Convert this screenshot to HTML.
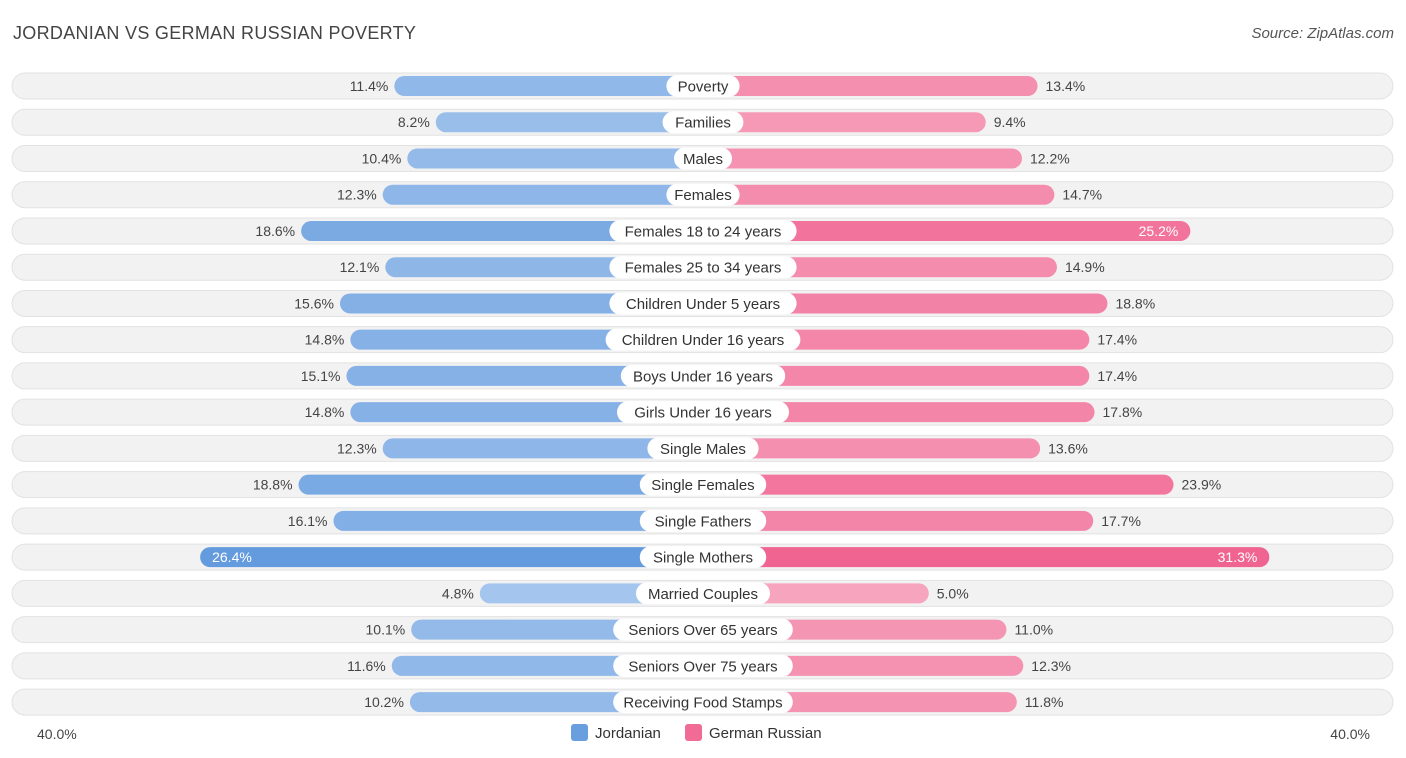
<!DOCTYPE html>
<html><head><meta charset="utf-8"><style>
body{margin:0;background:#fff;font-family:"Liberation Sans",Arial,sans-serif;}
#wrap{position:relative;width:1406px;height:758px;overflow:hidden;}
.title{position:absolute;left:13px;top:23px;font-size:18px;color:#444;letter-spacing:0.3px}
.src{position:absolute;right:12px;top:25px;font-size:15px;color:#555;font-style:italic}
</style></head><body><div id="wrap">
<div class="title">JORDANIAN VS GERMAN RUSSIAN POVERTY</div>
<div class="src">Source: ZipAtlas.com</div>
<svg id="svg" width="1406" height="758" style="position:absolute;left:0;top:0"></svg>
</div>
<script>
const categories=["Poverty","Families","Males","Females","Females 18 to 24 years","Females 25 to 34 years","Children Under 5 years","Children Under 16 years","Boys Under 16 years","Girls Under 16 years","Single Males","Single Females","Single Fathers","Single Mothers","Married Couples","Seniors Over 65 years","Seniors Over 75 years","Receiving Food Stamps"];
const jordanian=[11.4,8.2,10.4,12.3,18.6,12.1,15.6,14.8,15.1,14.8,12.3,18.8,16.1,26.4,4.8,10.1,11.6,10.2];
const germanRussian=[13.4,9.4,12.2,14.7,25.2,14.9,18.8,17.4,17.4,17.8,13.6,23.9,17.7,31.3,5.0,11.0,12.3,11.8];
const axisLabels=["40.0%","40.0%"];
const NS="http://www.w3.org/2000/svg";
const svg=document.getElementById('svg');
const cx=703,off=161,scale=12.95,y0=86,dy=36.24;
function xL(v){return cx-off-v*scale;}
function xR(v){return cx+off+v*scale;}
function rowY(i){return y0+i*dy;}
function mk(t,a){const e=document.createElementNS(NS,t);for(const k in a)e.setAttribute(k,a[k]);svg.appendChild(e);return e;}
function mix(a,b,t){return 'rgb('+a.map((v,i)=>Math.round(v+(b[i]-v)*t)).join(',')+')';}
categories.forEach((c,i)=>{
  const y=rowY(i);
  const bg=mk('rect',{x:12,y:y-13,width:1381,height:26,rx:13,fill:'#f2f2f2',stroke:'#e2e2e2','stroke-width':1});
  
  
  const j=jordanian[i],g=germanRussian[i];
  const tj=Math.min(1,j/26.4),tg=Math.min(1,g/31.3);
  const bj=mk('rect',{x:xL(j),y:y-10,width:cx-xL(j),height:20,rx:10,fill:mix([178,206,240],[100,155,222],tj)});
  
  
  const bgR=mk('rect',{x:cx,y:y-10,width:xR(g)-cx,height:20,rx:10,fill:mix([248,176,198],[240,100,146],tg)});
  
  
  const w=c.length*7.6+20;
  const lb=mk('rect',{x:cx-w/2,y:y-11,width:w,height:22,rx:11,fill:'#fff'});
  
  
  const t=mk('text',{x:cx,y:y+5.5,'text-anchor':'middle','font-size':15,fill:'#333'});t.textContent=c;
  
  
  const inJ=j>25,inG=g>25;
  const tj2=mk('text',{x:inJ?xL(j)+12:xL(j)-6,y:y+5,'text-anchor':inJ?'start':'end','font-size':14,fill:inJ?'#fff':'#444'});tj2.textContent=j.toFixed(1)+'%';
  
  
  const tg2=mk('text',{x:inG?xR(g)-12:xR(g)+8,y:y+5,'text-anchor':inG?'end':'start','font-size':14,fill:inG?'#fff':'#444'});tg2.textContent=g.toFixed(1)+'%';
  
  
});
const a1=mk('text',{x:37,y:739,'font-size':14,fill:'#444'});a1.textContent=axisLabels[0];


const a2=mk('text',{x:1370,y:739,'font-size':14,fill:'#444','text-anchor':'end'});a2.textContent=axisLabels[1];


const l1=mk('rect',{x:571,y:724,width:17,height:17,rx:3,fill:'#6a9fdf'});


const lt1=mk('text',{x:595,y:738,'font-size':15,fill:'#333'});lt1.textContent='Jordanian';


const l2=mk('rect',{x:685,y:724,width:17,height:17,rx:3,fill:'#f06b96'});


const lt2=mk('text',{x:709,y:738,'font-size':15,fill:'#333'});lt2.textContent='German Russian';


</script></body></html>
